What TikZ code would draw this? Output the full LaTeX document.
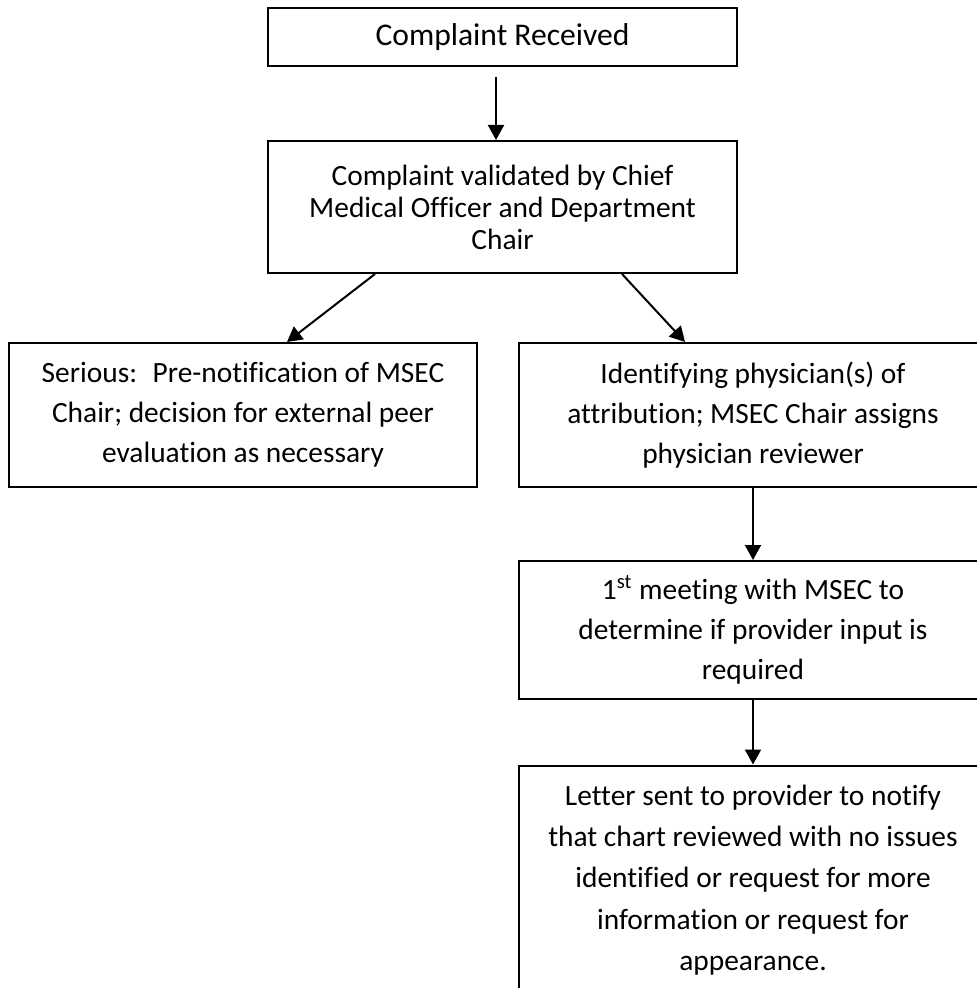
\documentclass[tikz,border=0pt]{standalone}
\usepackage{fontspec}
\setmainfont{Carlito}[Ligatures={NoCommon,NoRequired,NoContextual}]
\usetikzlibrary{arrows.meta,positioning}
\tikzset{
  sqbox/.style = { draw, line width=1pt, inner sep=0pt, align=center,
    font=\fontsize{14.7}{20}\selectfont },
  tight/.style = { font=\fontsize{14.7}{16}\selectfont },
  flow/.style  = { ->, line width=1pt, >={Triangle[length=7.5pt,width=8pt]} }
}
\begin{document}
\begin{tikzpicture}[node distance=85pt, on grid]
    \useasboundingbox (0,0) rectangle (488.5pt,-494pt);
    \clip (0,0) rectangle (488.5pt,-494pt);
    % received -> validated -> (serious | review chain)
    \node[sqbox, font=\fontsize{15.8}{20}\selectfont, minimum width=234.5pt, minimum height=29pt] (v0) at (251.25pt,-18.5pt) {Complaint Received};
    \node[sqbox, tight, minimum width=234.5pt, minimum height=66pt, below=of v0] (v1) {Complaint validated by Chief\\Medical Officer and Department\\Chair};
    \node[sqbox, minimum width=234pt, minimum height=72pt, below left=104pt and 129.75pt of v1] (v2) {Serious:~ Pre-notification of MSEC\\Chair; decision for external peer\\evaluation as necessary};
    \node[sqbox, minimum width=234pt, minimum height=72pt, below right=104pt and 125.25pt of v1] (v3) {Identifying physician(s) of\\attribution; MSEC Chair assigns\\physician reviewer};
    \node[sqbox, minimum width=234pt, minimum height=69pt, below=107.5pt of v3] (v4) {1\textsuperscript{st} meeting with MSEC to\\determine if provider input is\\required};
    \node[sqbox, font=\fontsize{14.7}{20.6}\selectfont, minimum width=234pt, minimum height=114.5pt, below=125pt of v4] (v5) {Letter sent to provider to notify\\that chart reviewed with no issues\\identified or request for more\\information or request for\\appearance.};

    \path[flow] ([xshift=-3.25pt]v0.south) edge[shorten <=5pt] ([xshift=-3.25pt]v1.north);
    \path[flow] ([xshift=-63.75pt]v1.south) edge ([xshift=22pt]v2.north);
    \path[flow] ([xshift=59.75pt]v1.south) edge ([xshift=-34pt]v3.north);
    \path[flow] (v3) edge (v4);
    \path[flow] (v4) edge (v5);
\end{tikzpicture}
\end{document}
